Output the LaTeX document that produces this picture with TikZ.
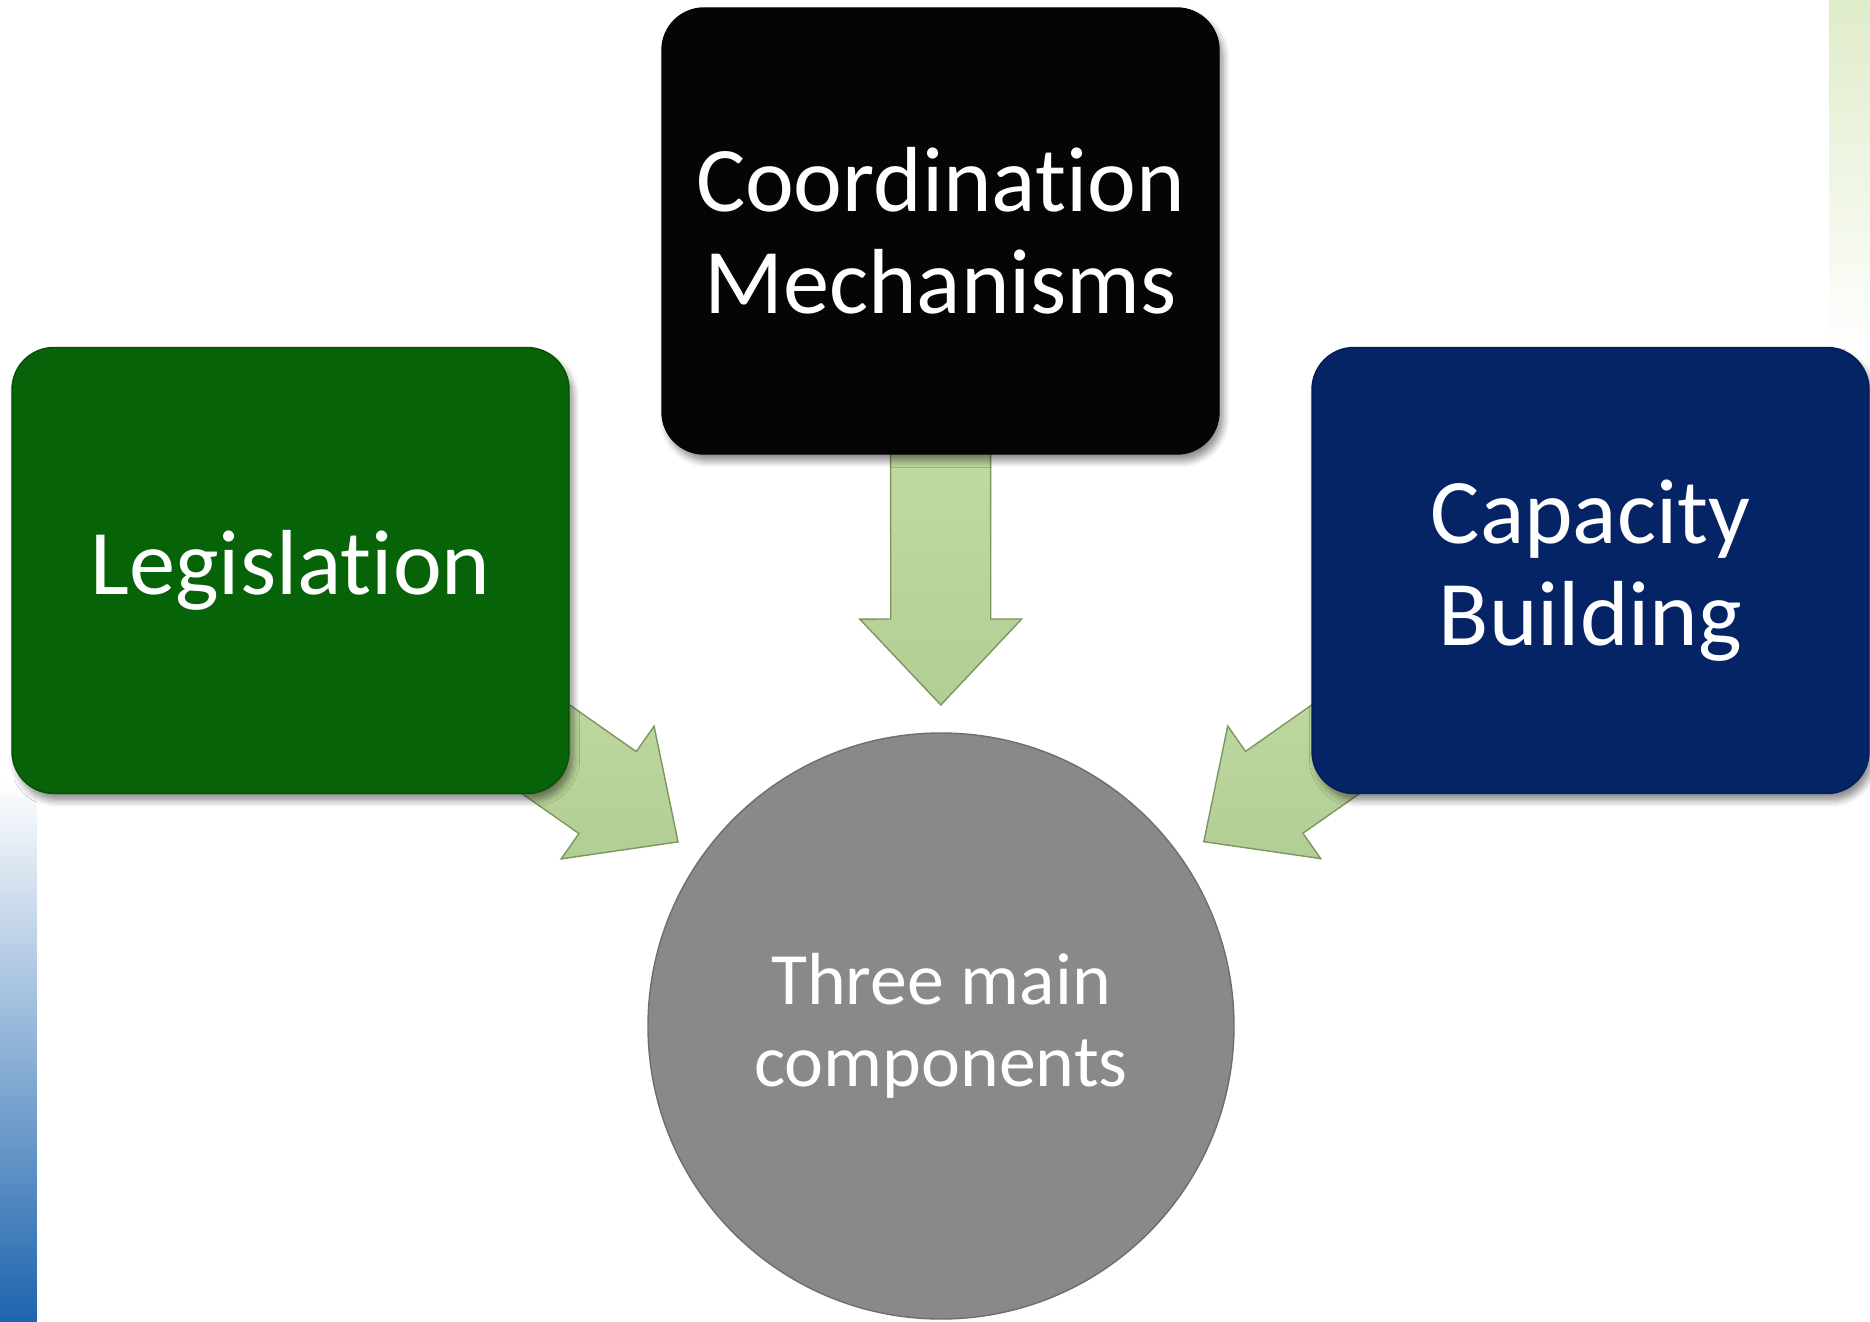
\documentclass[tikz,border=0pt]{standalone}
\usepackage{fontspec}
\setmainfont{Carlito}[Ligatures=NoCommon]
\usepackage{xcolor}
\usetikzlibrary{calc,shadows.blur}
\pgfdeclarelayer{background}
\pgfsetlayers{background,main}
\definecolor{legreen}{HTML}{076307}
\definecolor{coordblack}{HTML}{050505}
\definecolor{capblue}{HTML}{052466}
\definecolor{hubgray}{HTML}{898989}
\definecolor{arrowgreen}{HTML}{B2CE94}
\definecolor{arrowlight}{HTML}{C2DCA4}
\definecolor{arrowedge}{HTML}{7D9660}
\definecolor{barblue}{HTML}{1E64AE}
\definecolor{bargreen}{HTML}{DFECC9}
\tikzset{
  fat/.style={draw=arrowedge, thin, top color=arrowlight, bottom color=arrowgreen}
}
% broad arrow from #1 to the circle #2, drawn behind the boxes
\newcommand\bigarrow[2]{%
  \coordinate (#1-tip) at ($(#2)!3.21cm!(#1)$);
  \begin{pgfonlayer}{background}
  \path[fat] let \p1=($(#2)-(#1)$), \n1={atan2(\y1,\x1)} in
    (#1-tip)
    -- ($(#1-tip)+(\n1:-0.86)+(\n1+90:0.81)$)
    -- ($(#1-tip)+(\n1:-0.86)+(\n1+90:0.5)$)
    -- ($(#1-tip)+(\n1:-2.8)+(\n1+90:0.5)$)
    -- ($(#1-tip)+(\n1:-2.8)+(\n1-90:0.5)$)
    -- ($(#1-tip)+(\n1:-0.86)+(\n1-90:0.5)$)
    -- ($(#1-tip)+(\n1:-0.86)+(\n1-90:0.81)$)
    -- cycle;
  \end{pgfonlayer}
}

\begin{document}
\begin{tikzpicture}[box/.style = {draw=#1!80!black, fill=#1, rounded corners=0.42cm,
      minimum width=5.57cm, minimum height=4.46cm, text=white, align=center,
      font=\fontsize{26.3}{29}\selectfont,
      blur shadow={shadow xshift=0.04cm, shadow yshift=-0.07cm, shadow blur steps=6, shadow opacity=45}},
    main/.style = {draw=hubgray!80!black, circle, fill=hubgray, minimum size=5.86cm,
      text=white, align=center, font=\fontsize{21}{23.5}\selectfont}]
  \useasboundingbox (0,0) rectangle (18.7,13.21);

  % side bars
  \shade[top color=white, bottom color=barblue] (0,0) rectangle (0.37,5.41);
  \shade[top color=bargreen, bottom color=white] (18.29,9.71) rectangle (18.7,13.21);

  \node[main] at (9.41, 2.95) (1) {Three main\\components};

  \node[box=legreen] at (2.905, 7.505) (2) {Legislation};
  \node[box=coordblack] at (9.405, 10.90) (3) {Coordination\\Mechanisms};
  \node[box=capblue] at (15.905, 7.505) (4) {Capacity\\Building};

  \bigarrow{2}{1}
  \bigarrow{3}{1}
  \bigarrow{4}{1}

\end{tikzpicture}
\end{document}
